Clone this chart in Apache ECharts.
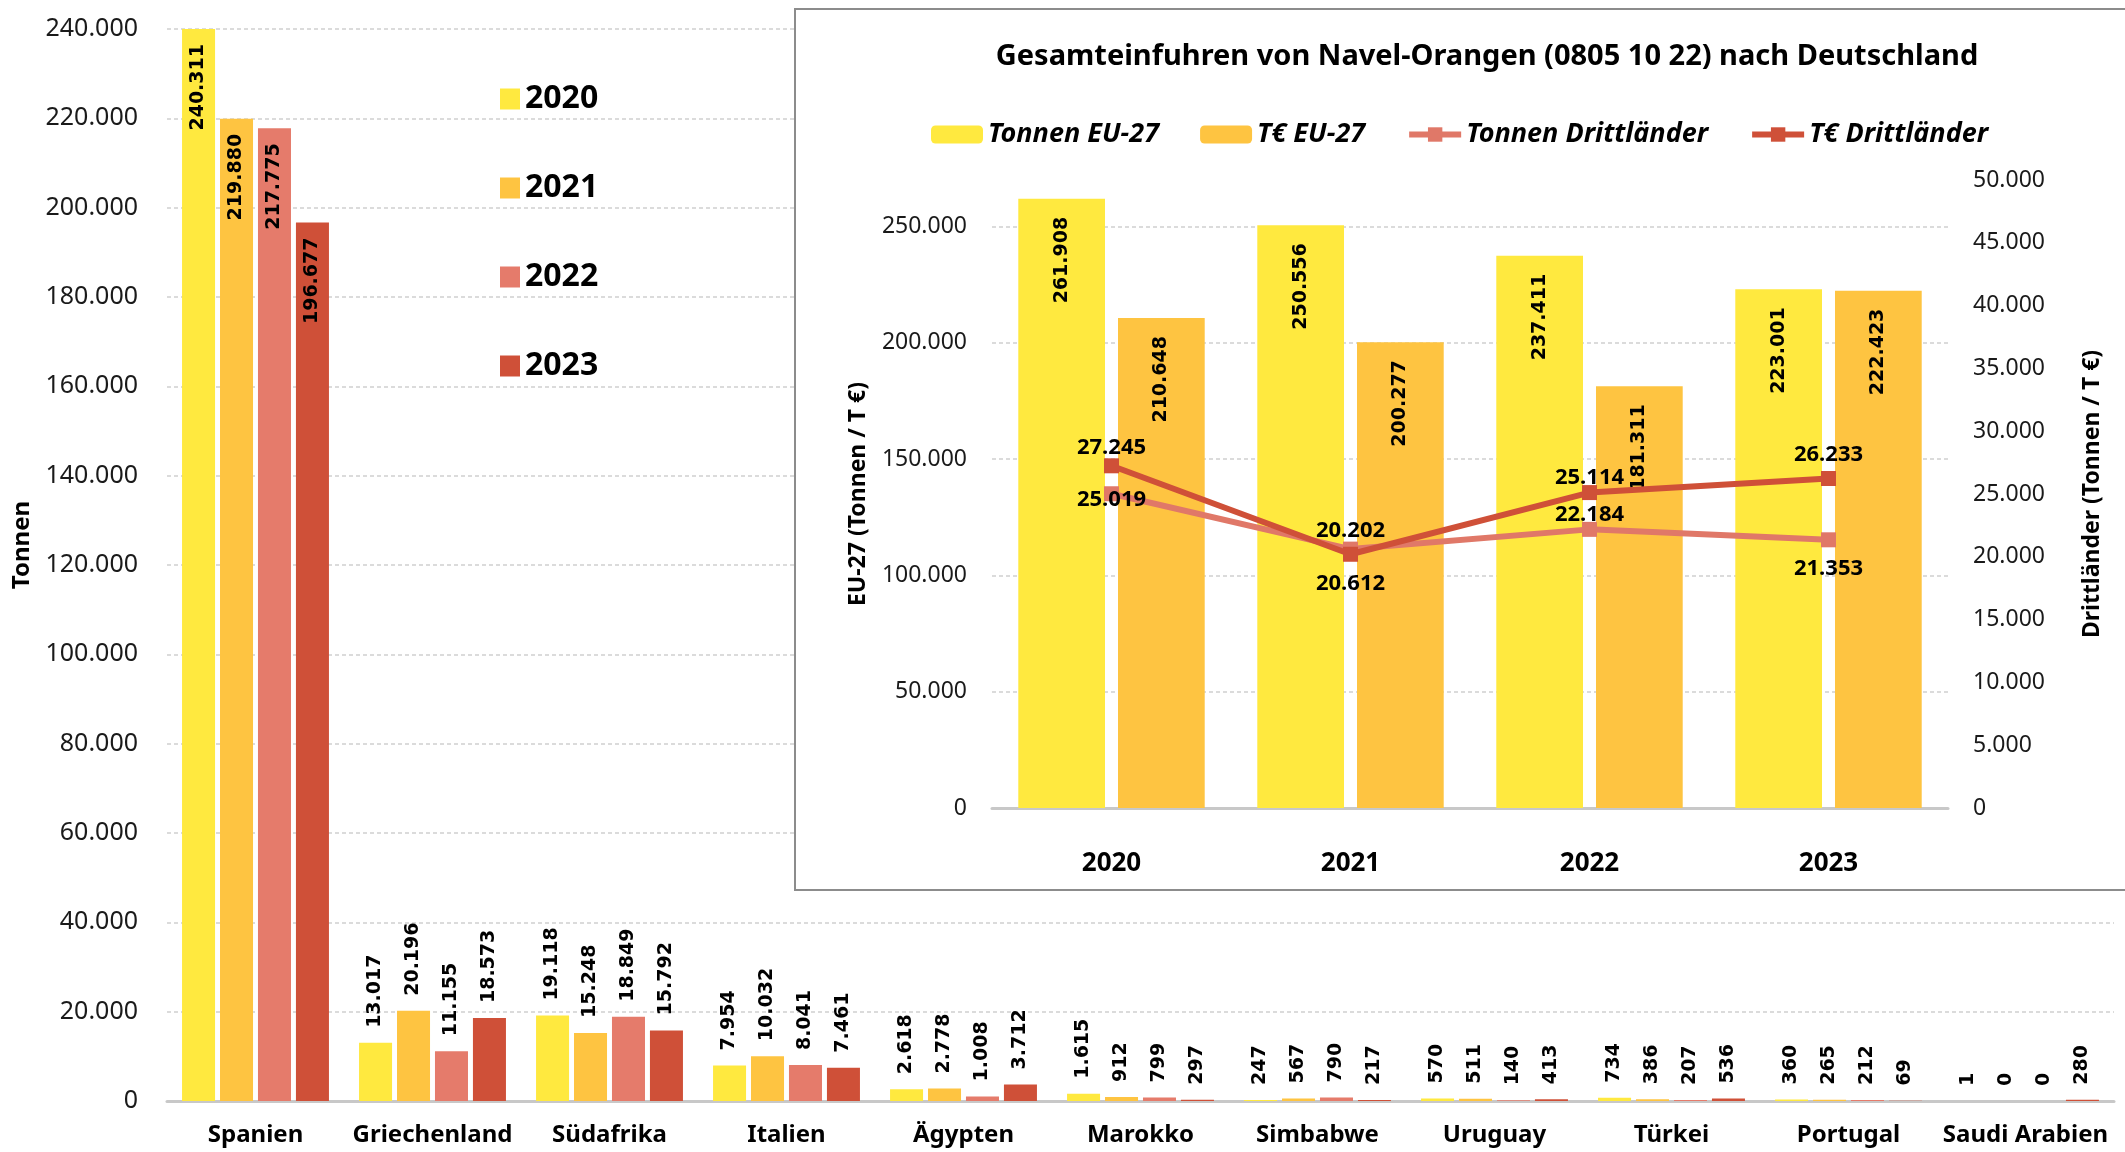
<!DOCTYPE html>
<html>
<head>
<meta charset="utf-8">
<script src="https://cdn.jsdelivr.net/npm/echarts@6/dist/echarts.min.js"></script>
<style>
  html, body { margin: 0; padding: 0; background: #fff; }
  #chart { width: 2125px; height: 1152px; }
</style>
</head>
<body>
<div id="chart"></div>
<script>
// Einfuhren nach Herkunftsland (Tonnen)
var countries = ['Spanien', 'Griechenland', 'Südafrika', 'Italien', 'Ägypten', 'Marokko', 'Simbabwe', 'Uruguay', 'Türkei', 'Portugal', 'Saudi Arabien'];
var years = ['2020', '2021', '2022', '2023'];
var tonnen2020 = [240311, 13017, 19118, 7954, 2618, 1615, 247, 570, 734, 360, 1];
var tonnen2021 = [219880, 20196, 15248, 10032, 2778, 912, 567, 511, 386, 265, 0];
var tonnen2022 = [217775, 11155, 18849, 8041, 1008, 799, 790, 140, 207, 212, 0];
var tonnen2023 = [196677, 18573, 15792, 7461, 3712, 297, 217, 413, 536, 69, 280];

// Gesamteinfuhren (Inset)
var insetYears = ['2020', '2021', '2022', '2023'];
var tonnenEU = [261908, 250556, 237411, 223001];
var euroEU = [210648, 200277, 181311, 222423];
var tonnenDritt = [25019, 20612, 22184, 21353];
var euroDritt = [27245, 20202, 25114, 26233];

// label offsets for the line labels (style only)
var tonnenDrittOffset = [[0, 6], [0, 35], [0, -15], [0, 29]];
var euroDrittOffset = [[0, -18], [0, -24], [0, -15], [0, -24]];

var fmt = function (v) {
  return String(v).replace(/\B(?=(\d{3})+(?!\d))/g, '.');
};

var FONT = 'Noto Sans';
var LABELFONT = 'DejaVu Sans';
var colors = ['#FFE93F', '#FEC441', '#E57B6B', '#CF5038'];

function mainSeries(name, values, idx) {
  return {
    name: name,
    type: 'bar',
    xAxisIndex: 0,
    yAxisIndex: 0,
    barGap: '15%',
    barCategoryGap: '17%',
    itemStyle: { color: colors[idx] },
    label: {
      show: true,
      position: 'top',
      rotate: 90,
      align: 'left',
      verticalAlign: 'middle',
      distance: 15,
      fontFamily: LABELFONT,
      fontWeight: 'bold',
      fontSize: 19,
      color: '#000',
      formatter: function (p) { return fmt(p.value); }
    },
    data: values.map(function (v, i) {
      if (i === 0) {
        return { value: v, label: { position: 'insideTop', align: 'right', verticalAlign: 'middle', distance: 15 } };
      }
      return v;
    })
  };
}

var chart = echarts.init(document.getElementById('chart'));

chart.setOption({
  animation: false,
  textStyle: { fontFamily: FONT },
  grid: [
    { left: 167, right: 11, top: 29, bottom: 51 },
    { left: 992, right: 177, top: 180, bottom: 344 }
  ],
  legend: [
    {
      data: years,
      orient: 'vertical',
      left: 495,
      top: 78,
      icon: 'rect',
      itemWidth: 20,
      itemHeight: 21,
      itemGap: 57,
      textStyle: { fontSize: 32, fontWeight: 'bold', color: '#000', lineHeight: 32 }
    },
    {
      data: ['Tonnen EU-27', 'T€ EU-27', 'Tonnen Drittländer', 'T€ Drittländer'],
      left: 926,
      top: 116,
      itemWidth: 52,
      itemHeight: 18,
      itemGap: 41,
      z: 10,
      lineStyle: { width: 6 },
      textStyle: { fontSize: 27, fontWeight: 'bold', fontStyle: 'italic', color: '#000' }
    }
  ],
  graphic: [
    {
      type: 'rect',
      z: 5,
      shape: { x: 795, y: 9, width: 1340, height: 881 },
      style: { fill: '#fff', stroke: '#8c8c8c', lineWidth: 2 }
    },
    {
      type: 'text',
      z: 6,
      x: 1487,
      y: 57,
      style: {
        text: 'Gesamteinfuhren von Navel-Orangen (0805 10 22) nach Deutschland',
        font: 'bold 29px "Noto Sans"',
        fill: '#000',
        align: 'center',
        verticalAlign: 'middle'
      }
    }
  ],
  xAxis: [
    {
      type: 'category',
      gridIndex: 0,
      data: countries,
      axisTick: { show: false },
      axisLine: { lineStyle: { color: '#c8c8c8', width: 3 } },
      axisLabel: { margin: 22, fontSize: 24, fontWeight: 'bold', color: '#000', interval: 0 }
    },
    {
      type: 'category',
      gridIndex: 1,
      data: insetYears,
      z: 8,
      axisTick: { show: false },
      axisLine: { lineStyle: { color: '#c8c8c8', width: 3 } },
      axisLabel: { margin: 43, fontSize: 26, fontWeight: 'bold', color: '#000' }
    }
  ],
  yAxis: [
    {
      type: 'value',
      gridIndex: 0,
      min: 0,
      max: 240000,
      interval: 20000,
      name: 'Tonnen',
      nameLocation: 'middle',
      nameRotate: 90,
      nameGap: 132,
      nameTextStyle: { fontSize: 24, fontWeight: 'bold', color: '#000', padding: [0, 0, 0, 40] },
      axisLine: { show: false },
      axisTick: { show: false },
      axisLabel: { margin: 29, fontSize: 25, color: '#1a1a1a', formatter: fmt },
      splitLine: { lineStyle: { color: '#cfcfcf', type: [4, 3], width: 1.5 } }
    },
    {
      type: 'value',
      gridIndex: 1,
      min: 0,
      max: 270000,
      interval: 50000,
      z: 8,
      name: 'EU-27 (Tonnen / T €)',
      nameLocation: 'middle',
      nameRotate: 90,
      nameGap: 122,
      nameTextStyle: { fontSize: 23, fontWeight: 'bold', color: '#000' },
      axisLine: { show: false },
      axisTick: { show: false },
      axisLabel: { margin: 25, fontSize: 23, color: '#1a1a1a', formatter: fmt, showMaxLabel: false },
      splitLine: { showMaxLine: false, lineStyle: { color: '#cfcfcf', type: [4, 3], width: 1.5 } }
    },
    {
      type: 'value',
      gridIndex: 1,
      position: 'right',
      min: 0,
      max: 50000,
      interval: 5000,
      z: 8,
      name: 'Drittländer (Tonnen / T €)',
      nameLocation: 'middle',
      nameRotate: 90,
      nameGap: 133,
      nameTextStyle: { fontSize: 23, fontWeight: 'bold', color: '#000' },
      axisLine: { show: false },
      axisTick: { show: false },
      axisLabel: { margin: 25, fontSize: 23, color: '#1a1a1a', formatter: fmt },
      splitLine: { show: false }
    }
  ],
  series: [
    mainSeries('2020', tonnen2020, 0),
    mainSeries('2021', tonnen2021, 1),
    mainSeries('2022', tonnen2022, 2),
    mainSeries('2023', tonnen2023, 3),
    {
      name: 'Tonnen EU-27',
      type: 'bar',
      xAxisIndex: 1,
      yAxisIndex: 1,
      z: 10,
      barGap: '15%',
      barCategoryGap: '22%',
      itemStyle: { color: '#FFE93F' },
      label: {
        show: true, position: 'insideTop', rotate: 90, align: 'right', verticalAlign: 'middle', distance: 18,
        fontFamily: LABELFONT, fontWeight: 'bold', fontSize: 19, color: '#000',
        formatter: function (p) { return fmt(p.value); }
      },
      data: tonnenEU
    },
    {
      name: 'T€ EU-27',
      type: 'bar',
      xAxisIndex: 1,
      yAxisIndex: 1,
      z: 10,
      itemStyle: { color: '#FEC441' },
      label: {
        show: true, position: 'insideTop', rotate: 90, align: 'right', verticalAlign: 'middle', distance: 18,
        fontFamily: LABELFONT, fontWeight: 'bold', fontSize: 19, color: '#000',
        formatter: function (p) { return fmt(p.value); }
      },
      data: euroEU
    },
    {
      name: 'Tonnen Drittländer',
      type: 'line',
      xAxisIndex: 1,
      yAxisIndex: 2,
      z: 12,
      symbol: 'rect',
      symbolSize: 15,
      lineStyle: { color: '#E07868', width: 6 },
      itemStyle: { color: '#E07868' },
      label: { show: true, position: 'inside', fontSize: 22, fontWeight: 'bold', color: '#000', formatter: function (p) { return fmt(p.value); } },
      data: tonnenDritt.map(function (v, i) { return { value: v, label: { offset: tonnenDrittOffset[i] } }; })
    },
    {
      name: 'T€ Drittländer',
      type: 'line',
      xAxisIndex: 1,
      yAxisIndex: 2,
      z: 13,
      symbol: 'rect',
      symbolSize: 15,
      lineStyle: { color: '#CF5038', width: 6 },
      itemStyle: { color: '#CF5038' },
      label: { show: true, position: 'inside', fontSize: 22, fontWeight: 'bold', color: '#000', formatter: function (p) { return fmt(p.value); } },
      data: euroDritt.map(function (v, i) { return { value: v, label: { offset: euroDrittOffset[i] } }; })
    }
  ]
});
</script>
</body>
</html>
